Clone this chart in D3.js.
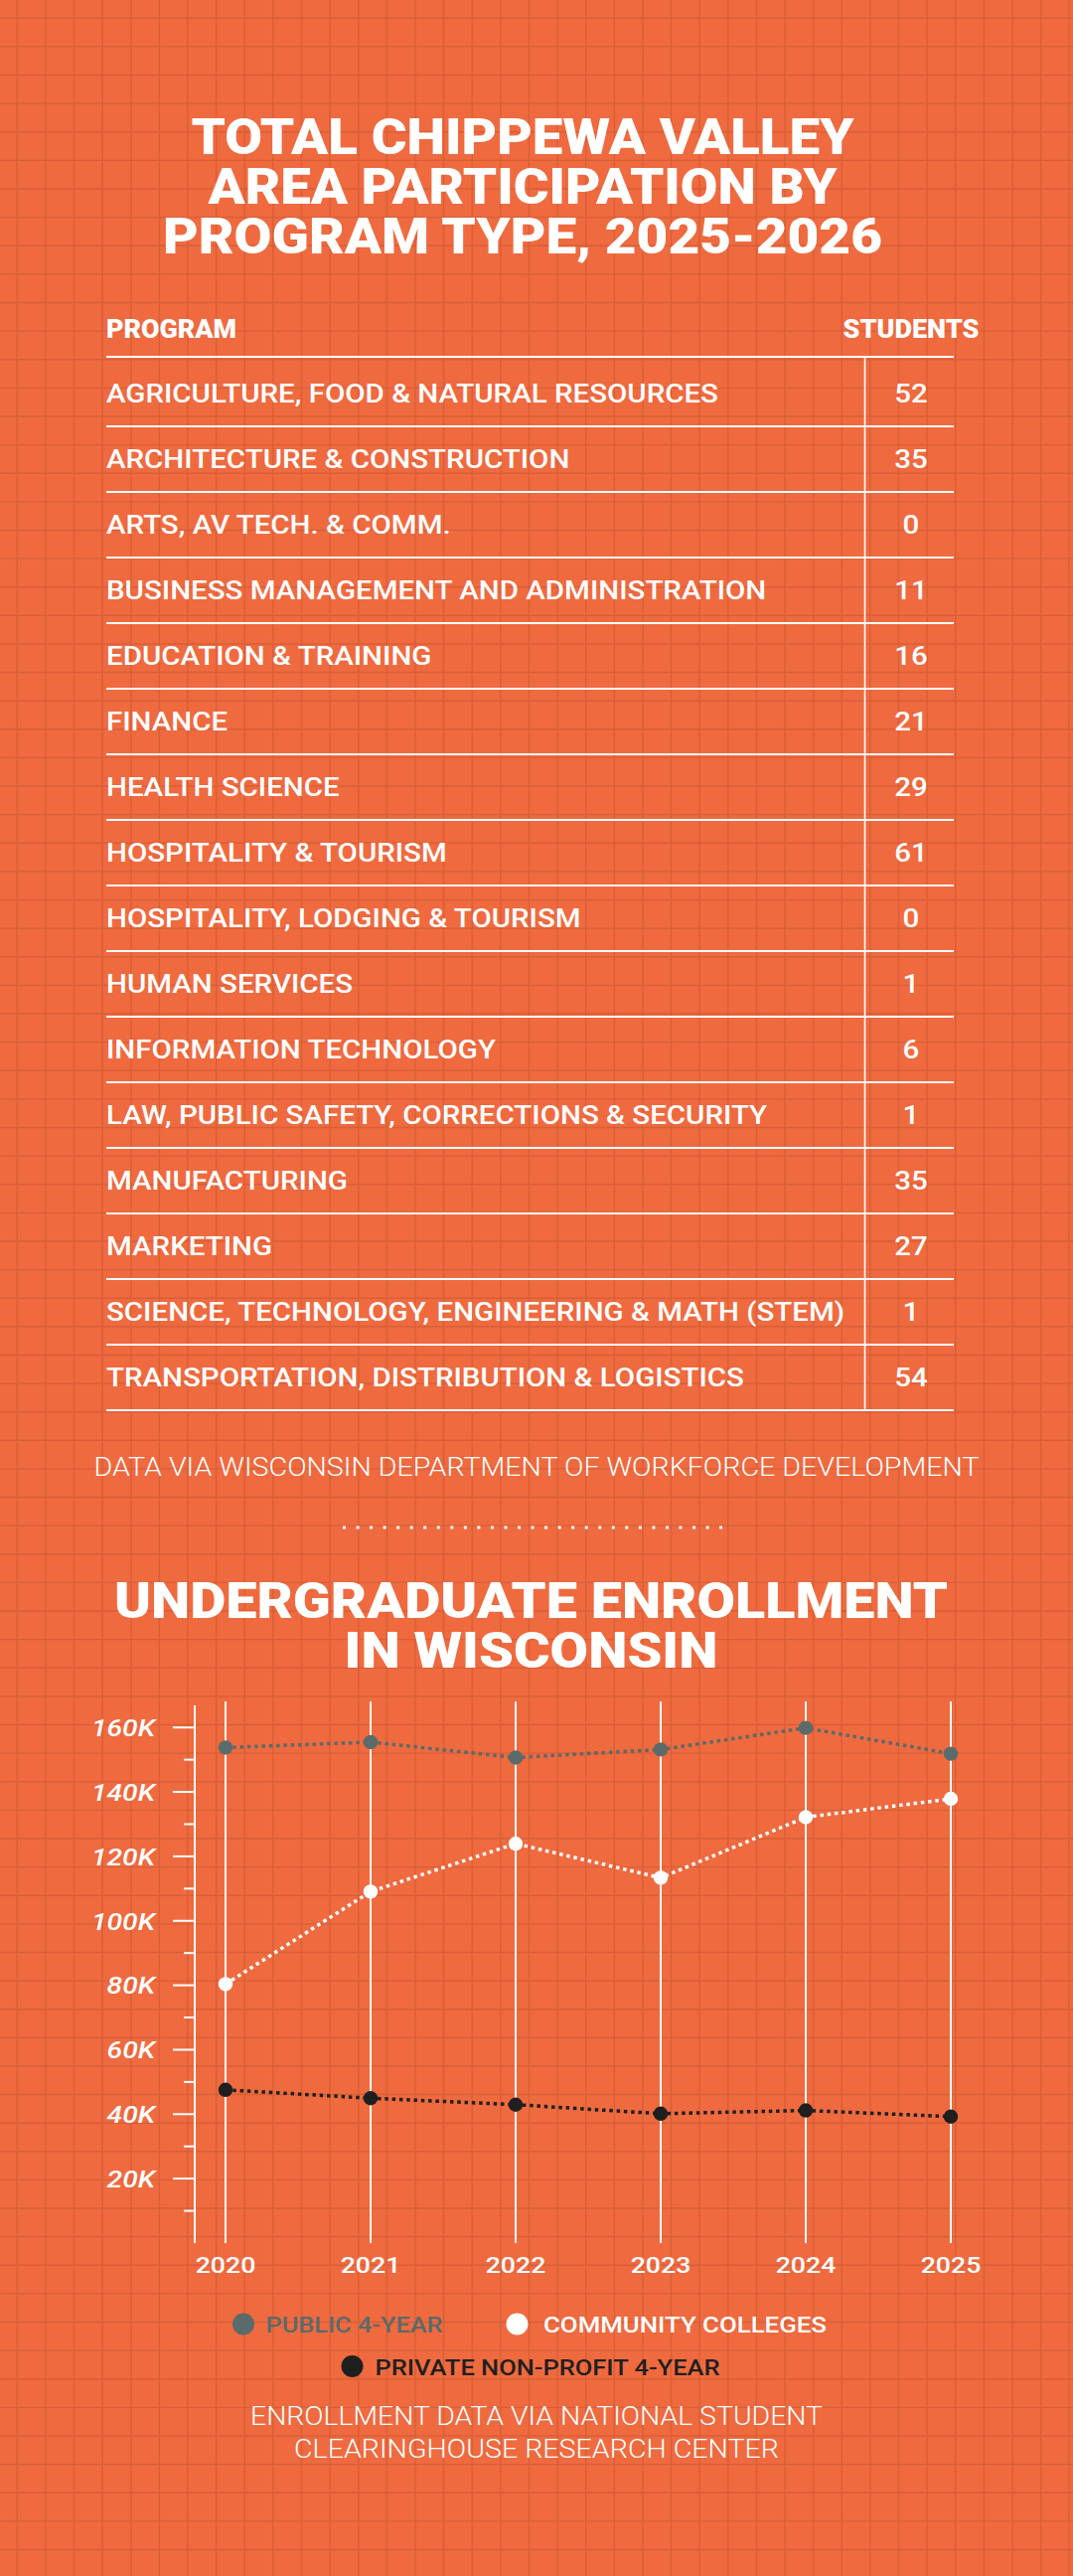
<!DOCTYPE html>
<html>
<head>
<meta charset="utf-8">
<script src="https://cdn.jsdelivr.net/npm/d3@7"></script>
<style>
  html, body { margin: 0; padding: 0; background: #ef6a3f; }
  svg { display: block; }
</style>
</head>
<body>
<svg id="page" width="1080" height="2592"></svg>
<script>
// ---- data ----
const programs = [
    "AGRICULTURE, FOOD & NATURAL RESOURCES",
    "ARCHITECTURE & CONSTRUCTION",
    "ARTS, AV TECH. & COMM.",
    "BUSINESS MANAGEMENT AND ADMINISTRATION",
    "EDUCATION & TRAINING",
    "FINANCE",
    "HEALTH SCIENCE",
    "HOSPITALITY & TOURISM",
    "HOSPITALITY, LODGING & TOURISM",
    "HUMAN SERVICES",
    "INFORMATION TECHNOLOGY",
    "LAW, PUBLIC SAFETY, CORRECTIONS & SECURITY",
    "MANUFACTURING",
    "MARKETING",
    "SCIENCE, TECHNOLOGY, ENGINEERING & MATH (STEM)",
    "TRANSPORTATION, DISTRIBUTION & LOGISTICS",
];
const students = [52, 35, 0, 11, 16, 21, 29, 61, 0, 1, 6, 1, 35, 27, 1, 54];

const years = ["2020", "2021", "2022", "2023", "2024", "2025"];
const publicFourYear = [153600, 155300, 150500, 153000, 159700, 151700];
const communityColleges = [80200, 108900, 123800, 113200, 132000, 137700];
const privateNonProfit = [47400, 44800, 42800, 40000, 41000, 39100];

const yMajorTicks = [20000, 40000, 60000, 80000, 100000, 120000, 140000, 160000];
const yMinorTicks = [10000, 30000, 50000, 70000, 90000, 110000, 130000, 150000];

const seriesNames = ["PUBLIC 4-YEAR", "COMMUNITY COLLEGES", "PRIVATE NON-PROFIT 4-YEAR"];
const seriesColors = ["#5b6a6a", "#ffffff", "#1f1f1f"];

// ---- page ----
const W = 1080, H = 2592;
const svg = d3.select("#page");
const FONT = "Roboto, 'Open Sans', sans-serif";

// squeeze a text to a given width (the original uses a condensed face)
const fit = (sel, width) => sel.attr("textLength", width).attr("lengthAdjust", "spacingAndGlyphs");

// multi-line heading as one text element
function heading(lines, cx, size) {
    const t = svg.append("text")
        .attr("text-anchor", "middle")
        .attr("fill", "#fff")
        .attr("font-family", FONT).attr("font-weight", 900).attr("font-size", size);
    lines.forEach((l) => {
        t.append("tspan").attr("x", cx).attr("y", l.y).text(l.t).call(fit, l.w);
    });
    return t;
}

// background + graph paper grid
svg.append("rect").attr("width", W).attr("height", H).attr("fill", "#ef6a3f");
const step = 28.62;
const grid = svg.append("g").attr("stroke", "#d85f38").attr("stroke-width", 1.4);
d3.range(17.3, W, step).forEach((gx) => {
    grid.append("line").attr("x1", gx).attr("x2", gx).attr("y1", 0).attr("y2", H);
});
d3.range(18.3, H, step).forEach((gy) => {
    grid.append("line").attr("x1", 0).attr("x2", W).attr("y1", gy).attr("y2", gy);
});

// ---- title 1 ----
heading([
    { t: "TOTAL CHIPPEWA VALLEY", y: 155, w: 667 },
    { t: "AREA PARTICIPATION BY", y: 205, w: 633 },
    { t: "PROGRAM TYPE, 2025-2026", y: 255, w: 724 },
], 526, 50);

// ---- table ----
const tableLeft = 107, tableRight = 960, divX = 870.5, valueX = 917;
const rows = d3.scaleBand().domain(programs).range([363, 1419]);
const table = svg.append("g");

table.append("text")
    .attr("x", tableLeft).attr("y", 340)
    .attr("fill", "#fff").attr("font-family", FONT).attr("font-weight", 900).attr("font-size", 25)
    .text("PROGRAM").call(fit, 131);
table.append("text")
    .attr("x", valueX).attr("y", 340).attr("text-anchor", "middle")
    .attr("fill", "#fff").attr("font-family", FONT).attr("font-weight", 900).attr("font-size", 25)
    .text("STUDENTS").call(fit, 137);

table.append("line")
    .attr("x1", tableLeft).attr("x2", tableRight).attr("y1", 359).attr("y2", 359)
    .attr("stroke", "#fff").attr("stroke-width", 2);
table.append("line")
    .attr("x1", divX).attr("x2", divX).attr("y1", 359).attr("y2", 1419)
    .attr("stroke", "#fff").attr("stroke-width", 1.6);

table.selectAll(".sep")
    .data(programs)
    .join("line")
    .attr("class", "sep")
    .attr("x1", tableLeft).attr("x2", tableRight)
    .attr("y1", (d) => rows(d) + rows.bandwidth())
    .attr("y2", (d) => rows(d) + rows.bandwidth())
    .attr("stroke", "#fff").attr("stroke-width", 2);

const labels = table.selectAll(".prog")
    .data(programs)
    .join("text")
    .attr("class", "prog")
    .attr("x", tableLeft)
    .attr("y", (d) => rows(d) + rows.bandwidth() / 2 + 9)
    .attr("fill", "#fff").attr("font-family", FONT).attr("font-weight", 500).attr("font-size", 25.5)
    .text((d) => d);
const rowFactor = 616 / labels.nodes()[0].getComputedTextLength();
labels.each(function () {
    d3.select(this).call(fit, this.getComputedTextLength() * rowFactor);
});

const vals = table.selectAll(".val")
    .data(programs)
    .join("text")
    .attr("class", "val")
    .attr("x", valueX)
    .attr("y", (d) => rows(d) + rows.bandwidth() / 2 + 9)
    .attr("text-anchor", "middle")
    .attr("fill", "#fff").attr("font-family", FONT).attr("font-weight", 500).attr("font-size", 25.5)
    .text((d, i) => students[i]);
vals.each(function () {
    d3.select(this).call(fit, this.getComputedTextLength() * rowFactor);
});

svg.append("text")
    .attr("x", 540).attr("y", 1485).attr("text-anchor", "middle")
    .attr("fill", "#fff").attr("font-family", FONT).attr("font-weight", 300).attr("font-size", 25.5)
    .text("DATA VIA WISCONSIN DEPARTMENT OF WORKFORCE DEVELOPMENT").call(fit, 891);

// dotted divider
svg.append("line")
    .attr("x1", 345).attr("x2", 727).attr("y1", 1537).attr("y2", 1537)
    .attr("stroke", "#fff").attr("stroke-width", 3).attr("stroke-dasharray", "3 10.54");

// ---- title 2 ----
heading([
    { t: "UNDERGRADUATE ENROLLMENT", y: 1628, w: 839 },
    { t: "IN WISCONSIN", y: 1678, w: 376 },
], 534.5, 50.5);

// ---- line chart ----
const x = d3.scalePoint().domain(years).range([227, 957]);
const y = d3.scaleLinear().domain([0, 160000]).range([2256.5, 1737.7]);
const chart = svg.append("g");

chart.selectAll(".vgrid")
    .data(years)
    .join("line")
    .attr("class", "vgrid")
    .attr("x1", (d) => x(d)).attr("x2", (d) => x(d))
    .attr("y1", 1712).attr("y2", 2257)
    .attr("stroke", "#fff").attr("stroke-width", 2);

const axisX = 196;
chart.append("line")
    .attr("x1", axisX).attr("x2", axisX).attr("y1", 1716).attr("y2", 2257)
    .attr("stroke", "#fff").attr("stroke-width", 2);

const yAxis = chart.append("g")
    .attr("transform", `translate(${axisX},0)`)
    .call(d3.axisLeft(y).tickValues(yMajorTicks).tickSize(22).tickPadding(18)
        .tickFormat((d) => `${d / 1000}K`));
const yMinor = chart.append("g")
    .attr("transform", `translate(${axisX},0)`)
    .call(d3.axisLeft(y).tickValues(yMinorTicks).tickSize(11).tickFormat(""));
[yAxis, yMinor].forEach((a) => {
    a.select(".domain").remove();
    a.selectAll(".tick line").attr("stroke", "#fff").attr("stroke-width", 2);
});
const yLabels = yAxis.selectAll(".tick text")
    .attr("fill", "#fff")
    .attr("font-family", FONT).attr("font-style", "italic").attr("font-weight", 500)
    .attr("font-size", 24.5)
    .attr("dy", "0.36em");
const yFactor = 64 / yLabels.filter((d) => d === 160000).node().getComputedTextLength();
yLabels.each(function () {
    d3.select(this).call(fit, this.getComputedTextLength() * yFactor);
});

const xLabels = chart.selectAll(".year")
    .data(years)
    .join("text")
    .attr("class", "year")
    .attr("x", (d) => x(d)).attr("y", 2287)
    .attr("text-anchor", "middle")
    .attr("fill", "#fff").attr("font-family", FONT).attr("font-weight", 500).attr("font-size", 22)
    .text((d) => d);
const xFactor = 60.6 / xLabels.nodes()[0].getComputedTextLength();
xLabels.each(function () {
    d3.select(this).call(fit, this.getComputedTextLength() * xFactor);
});

const series = [publicFourYear, communityColleges, privateNonProfit];
const line = d3.line().x((d, i) => x(years[i])).y((d) => y(d));
series.forEach((vals, s) => {
    chart.append("path")
        .datum(vals)
        .attr("d", line)
        .attr("fill", "none")
        .attr("stroke", seriesColors[s])
        .attr("stroke-width", 3.5)
        .attr("stroke-dasharray", "3.5 3.8");
});
series.forEach((vals, s) => {
    chart.selectAll(`.dot${s}`)
        .data(vals)
        .join("circle")
        .attr("class", `dot${s}`)
        .attr("cx", (d, i) => x(years[i]))
        .attr("cy", (d) => y(d))
        .attr("r", 7.2)
        .attr("fill", seriesColors[s]);
});

// ---- legend ----
const legendItems = [
    { cx: 245, cy: 2338.5, tx: 267.5, ty: 2347, w: 178 },
    { cx: 520.5, cy: 2338.5, tx: 547, ty: 2347, w: 285 },
    { cx: 354.5, cy: 2381, tx: 377.5, ty: 2389.5, w: 347 },
];
const legend = svg.append("g");
legendItems.forEach((it, i) => {
    legend.append("circle")
        .attr("cx", it.cx).attr("cy", it.cy).attr("r", 11)
        .attr("fill", seriesColors[i]);
    legend.append("text")
        .attr("x", it.tx).attr("y", it.ty)
        .attr("fill", seriesColors[i])
        .attr("font-family", FONT).attr("font-weight", 500).attr("font-size", 22)
        .text(seriesNames[i])
        .call(fit, it.w);
});

// ---- source note ----
const note = svg.append("text")
    .attr("text-anchor", "middle")
    .attr("fill", "#fff")
    .attr("font-family", FONT).attr("font-weight", 300).attr("font-size", 25.5);
[
    { t: "ENROLLMENT DATA VIA NATIONAL STUDENT", y: 2440, w: 576 },
    { t: "CLEARINGHOUSE RESEARCH CENTER", y: 2473, w: 488 },
].forEach((l) => {
    note.append("tspan").attr("x", 540).attr("y", l.y).text(l.t).call(fit, l.w);
});
</script>
</body>
</html>
